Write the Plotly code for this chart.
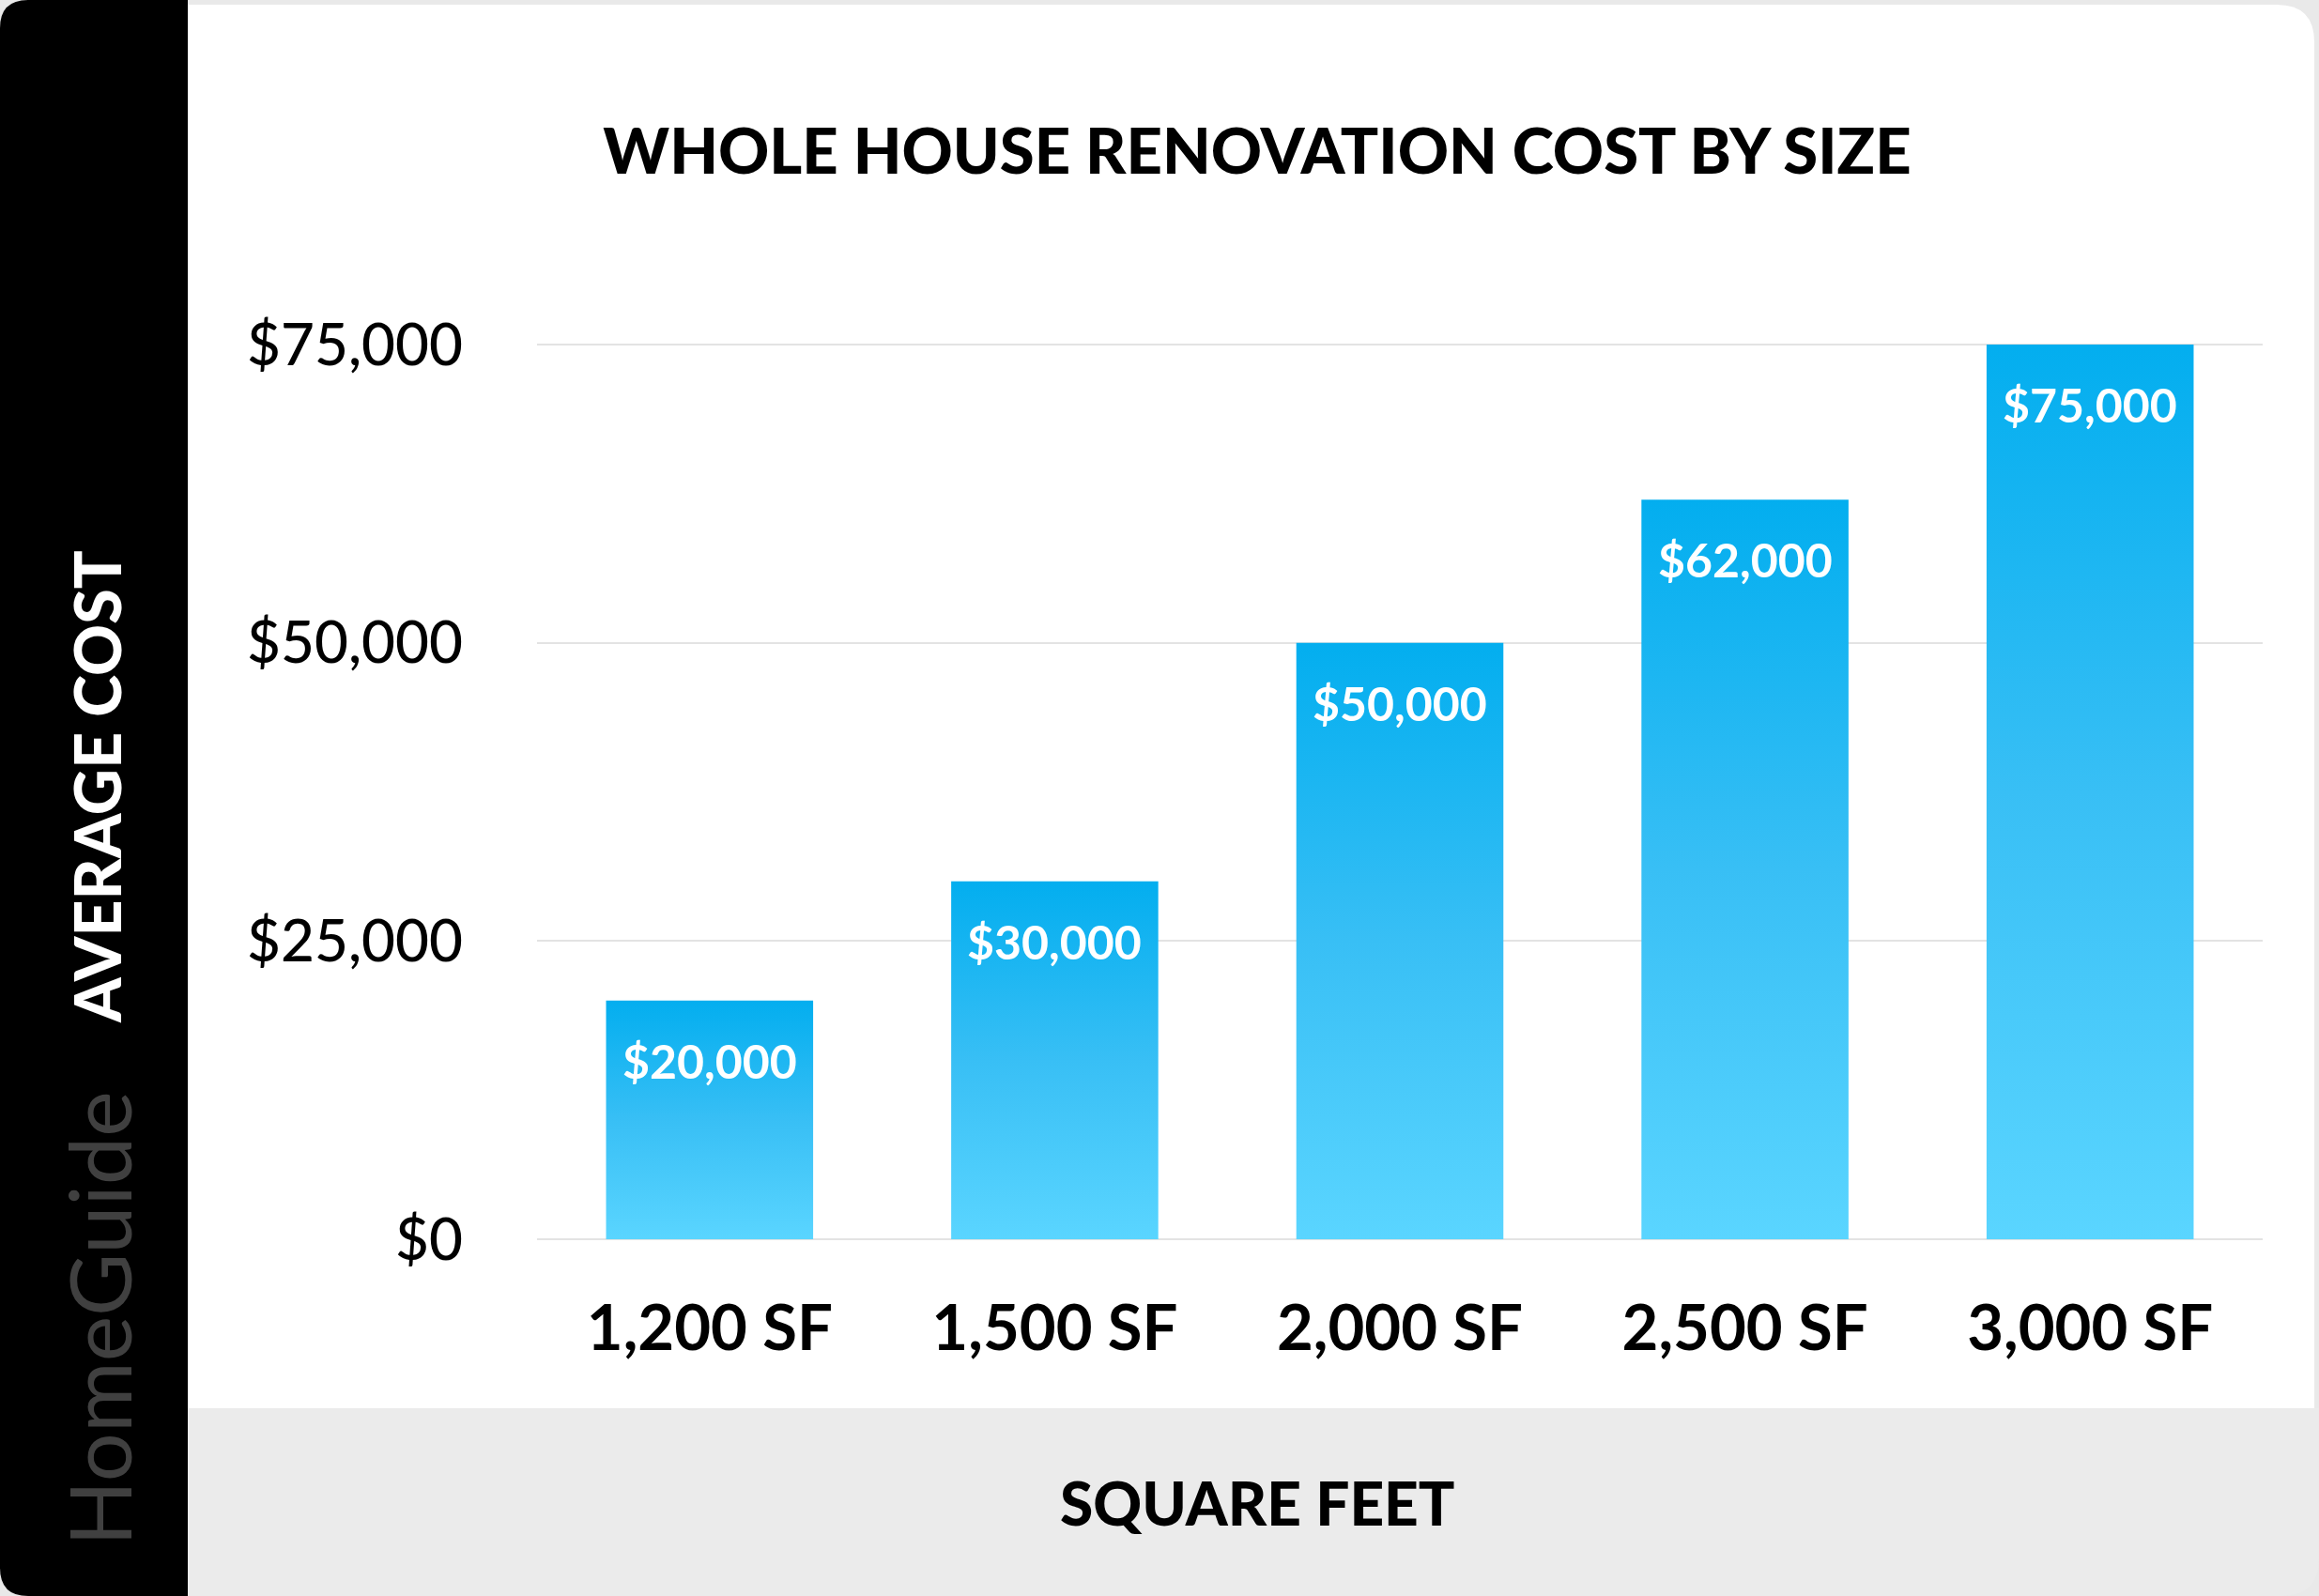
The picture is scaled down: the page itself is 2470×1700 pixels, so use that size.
import plotly.graph_objects as go

# ---------------- data ----------------
categories = ["1,200 SF", "1,500 SF", "2,000 SF", "2,500 SF", "3,000 SF"]
avg_cost = [20000, 30000, 50000, 62000, 75000]
y_tick_values = [0, 25000, 50000, 75000]
y_tick_labels = ["$0", "$25,000", "$50,000", "$75,000"]
chart_title = "WHOLE HOUSE RENOVATION COST BY SIZE"
x_title = "SQUARE FEET"
y_title = "AVERAGE COST"
brand = "HomeGuide"

# ---------------- layout constants ----------------
W, H = 2470, 1700
ML, MR, MT, MB = 572, 60, 363, 376
PW, PH = W - ML - MR, H - MT - MB
Y_RANGE = [-315, 75315]
BAR_WIDTH = 0.6
FONT = "Lato"


def fx(px):
    return (px - ML) / PW


def fy(py):
    return (H - MB - py) / PH


def rounded_path(x0, y0, x1, y1, tl=0, tr=0, br=0, bl=0):
    # pixel coords, y downward -> paper coords path
    def p(x, y):
        return f"{fx(x):.6f},{fy(y):.6f}"
    s = f"M {p(x0 + tl, y0)} L {p(x1 - tr, y0)} "
    if tr:
        s += f"Q {p(x1, y0)} {p(x1, y0 + tr)} "
    s += f"L {p(x1, y1 - br)} "
    if br:
        s += f"Q {p(x1, y1)} {p(x1 - br, y1)} "
    s += f"L {p(x0 + bl, y1)} "
    if bl:
        s += f"Q {p(x0, y1)} {p(x0, y1 - bl)} "
    s += f"L {p(x0, y0 + tl)} "
    if tl:
        s += f"Q {p(x0, y0)} {p(x0 + tl, y0)} "
    return s + "Z"


fig = go.Figure()

# bars drawn as gradient-filled rectangles on the data axes
grad = [[0.0, "#5ad5ff"], [0.5, "#38bff5"], [1.0, "#03aeef"]]
for i, (cat, v) in enumerate(zip(categories, avg_cost)):
    x0, x1 = i - BAR_WIDTH / 2, i + BAR_WIDTH / 2
    fig.add_trace(go.Scatter(
        x=[x0, x1, x1, x0, x0],
        y=[0, 0, v, v, 0],
        mode="lines",
        fill="toself",
        line=dict(width=0, color="rgba(0,0,0,0)"),
        fillcolor="#2fbbf3",
        fillgradient=dict(type="vertical", colorscale=grad),
        name=cat,
        hoverinfo="skip",
        showlegend=False,
    ))

# value labels inside bars
annotations = []
for i, v in enumerate(avg_cost):
    annotations.append(dict(
        x=i, y=v, xref="x", yref="y", yshift=-64,
        text=f"${v:,.0f}", showarrow=False,
        font=dict(family=FONT, size=50, color="white", weight=700),
        xanchor="center", yanchor="middle",
    ))

# axis titles / branding
annotations.append(dict(
    x=fx(102), y=fy(838), xref="paper", yref="paper",
    text=y_title, textangle=-90, showarrow=False,
    font=dict(family=FONT, size=68, color="white", weight=900),
    xanchor="center", yanchor="middle",
))
annotations.append(dict(
    x=fx(104), y=fy(1405), xref="paper", yref="paper",
    text=brand, textangle=-90, showarrow=False,
    font=dict(family=FONT, size=92, color="#404040", weight=400),
    xanchor="center", yanchor="middle",
))
annotations.append(dict(
    x=fx(1339), y=fy(1600), xref="paper", yref="paper",
    text=x_title, showarrow=False,
    font=dict(family=FONT, size=64, color="black", weight=900),
    xanchor="center", yanchor="middle",
))

shapes = [
    # white card with top-right rounded corner
    dict(type="path", xref="paper", yref="paper", layer="below",
         path=rounded_path(190, 5, 2465, 1500, tr=40),
         fillcolor="white", line=dict(width=0)),
    # grey bottom band
    dict(type="path", xref="paper", yref="paper", layer="below",
         path=rounded_path(190, 1500, 2470, 1700, br=40),
         fillcolor="#ebebeb", line=dict(width=0)),
    # black left panel
    dict(type="path", xref="paper", yref="paper", layer="below",
         path=rounded_path(0, 0, 200, 1700, tl=30, bl=30),
         fillcolor="black", line=dict(width=0)),
]

fig.update_layout(
    width=W, height=H,
    margin=dict(l=ML, r=MR, t=MT, b=MB, pad=0),
    paper_bgcolor="#e9e9e9",
    plot_bgcolor="rgba(0,0,0,0)",
    title=dict(
        text=chart_title, xref="container", yref="container",
        x=1339 / W, y=1 - 162 / H, xanchor="center", yanchor="middle",
        font=dict(family=FONT, size=67, color="black", weight=900),
    ),
    xaxis=dict(
        range=[-0.5, len(categories) - 0.5],
        tickvals=list(range(len(categories))), ticktext=categories,
        showgrid=False, zeroline=False, showline=False, ticks="",
        ticklabelstandoff=46,
        tickfont=dict(family=FONT, size=67, color="black", weight=700),
        fixedrange=True,
    ),
    yaxis=dict(
        range=Y_RANGE,
        tickvals=y_tick_values, ticktext=y_tick_labels,
        showgrid=True, gridcolor="#e3e3e3", gridwidth=2,
        zeroline=False, showline=False, ticks="",
        ticklabelstandoff=78,
        tickfont=dict(family=FONT, size=62, color="black", weight=500),
        fixedrange=True,
    ),
    annotations=annotations,
    shapes=shapes,
    showlegend=False,
)

fig.write_html("out.html")
